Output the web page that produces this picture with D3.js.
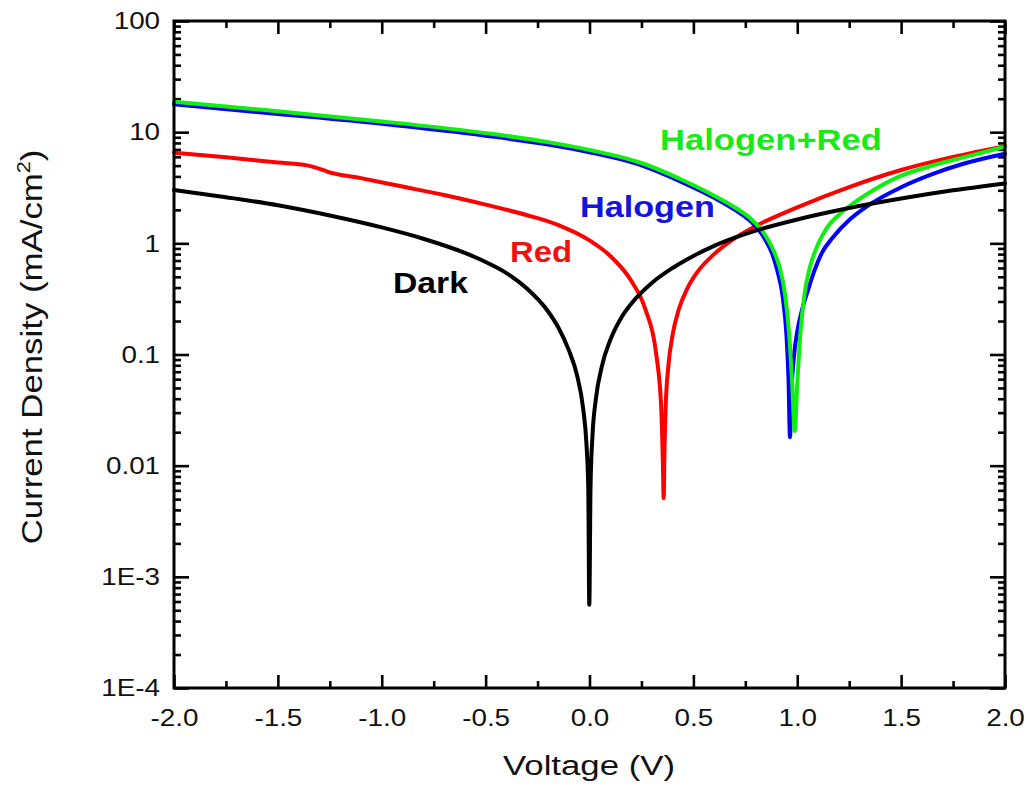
<!DOCTYPE html>
<html>
<head>
<meta charset="utf-8">
<script src="https://cdn.jsdelivr.net/npm/d3@7"></script>
<style>
  body { margin: 0; background: #fff; }
  text { font-family: "Liberation Sans", Arial, Helvetica, sans-serif; }
</style>
</head>
<body>
<svg id="chart" width="1030" height="790"></svg>
<script>
// ---- data ----
const xTickValues = [-2.0, -1.5, -1.0, -0.5, 0.0, 0.5, 1.0, 1.5, 2.0];
const xTickLabels = ["-2.0", "-1.5", "-1.0", "-0.5", "0.0", "0.5", "1.0", "1.5", "2.0"];
const yTickValues = [100, 10, 1, 0.1, 0.01, 1e-3, 1e-4];
const yTickLabels = ["100", "10", "1", "0.1", "0.01", "1E-3", "1E-4"];

// J-V sweeps: voltage (V) and |current density| (mA/cm^2)
const darkV = [-2.0, -1.75, -1.5, -1.25, -1.0, -0.8, -0.6, -0.5, -0.4, -0.3, -0.2, -0.15, -0.1, -0.06, -0.03, -0.015, -0.006, -0.001, 0.005, 0.015, 0.03, 0.06, 0.1, 0.15, 0.2, 0.3, 0.4, 0.5, 0.6, 0.8, 1.0, 1.25, 1.5, 1.75, 2.0];
const darkJ = [3.02, 2.6, 2.2, 1.78, 1.39, 1.1, 0.82, 0.68, 0.54, 0.39, 0.245, 0.175, 0.11, 0.065, 0.032, 0.016, 0.0064, 5.6e-4, 0.0065, 0.0195, 0.039, 0.079, 0.135, 0.21, 0.285, 0.44, 0.6, 0.77, 0.95, 1.3, 1.64, 2.08, 2.53, 3.0, 3.46];

const redV = [-2.0, -1.75, -1.5, -1.36, -1.31, -1.26, -1.1, -0.9, -0.7, -0.5, -0.3, -0.15, 0.0, 0.1, 0.2, 0.27, 0.32, 0.345, 0.353, 0.357, 0.361, 0.367, 0.38, 0.4, 0.43, 0.47, 0.52, 0.6, 0.7, 0.8, 1.0, 1.25, 1.5, 1.75, 2.0];
const redJ = [6.53, 5.94, 5.33, 5.03, 4.75, 4.4, 3.86, 3.24, 2.72, 2.23, 1.79, 1.46, 1.064, 0.77, 0.463, 0.252, 0.104, 0.034, 0.011, 0.0051, 0.014, 0.035, 0.08, 0.15, 0.255, 0.39, 0.554, 0.8, 1.115, 1.43, 2.11, 3.21, 4.57, 5.99, 7.49];

const halogenV = [-2.0, -1.5, -1.0, -0.5, -0.2, 0.0, 0.25, 0.45, 0.6, 0.7, 0.78, 0.84, 0.88, 0.905, 0.93, 0.948, 0.958, 0.965, 0.972, 0.985, 1.0, 1.025, 1.05, 1.08, 1.12, 1.17, 1.25, 1.33, 1.5, 1.65, 1.8, 2.0];
const halogenJ = [17.8, 14.6, 11.9, 9.3, 7.75, 6.6, 5.03, 3.52, 2.57, 2.0, 1.55, 1.13, 0.8, 0.56, 0.33, 0.15, 0.06, 0.018, 0.045, 0.1, 0.16, 0.26, 0.37, 0.55, 0.83, 1.12, 1.62, 2.12, 3.2, 4.2, 5.2, 6.4];

const halogenRedV = [-2.0, -1.5, -1.0, -0.5, -0.2, 0.0, 0.25, 0.45, 0.6, 0.7, 0.78, 0.84, 0.88, 0.916, 0.94, 0.96, 0.975, 0.988, 1.0, 1.016, 1.036, 1.06, 1.1, 1.136, 1.2, 1.25, 1.35, 1.49, 1.65, 1.81, 2.0];
const halogenRedJ = [18.8, 15.4, 12.5, 9.8, 8.14, 6.92, 5.28, 3.69, 2.68, 2.1, 1.64, 1.23, 0.91, 0.6, 0.36, 0.162, 0.058, 0.0205, 0.054, 0.162, 0.36, 0.6, 0.98, 1.32, 1.8, 2.15, 2.88, 3.98, 5.0, 6.0, 7.4];

const seriesNames = ["Dark", "Red", "Halogen", "Halogen+Red"];

// ---- layout & style ----
const M = { left: 174, top: 21, right: 25, bottom: 102 };
const W = 1030 - M.left - M.right;
const H = 790 - M.top - M.bottom;
const colors = { "Dark": "#000000", "Red": "#ff0000", "Halogen": "#0000ff", "Halogen+Red": "#11ee11" };
const labelColors = { "Dark": "#000000", "Red": "#f01010", "Halogen": "#1414dc", "Halogen+Red": "#18ea18" };

const svg = d3.select("#chart");
const g = svg.append("g").attr("transform", `translate(${M.left},${M.top})`);

const x = d3.scaleLinear().domain([-2, 2]).range([0, W]);
const y = d3.scaleLog().domain([1e-4, 100]).range([H, 0]);

const xMinor = d3.range(-1.75, 2, 0.5);
const yMinor = [];
for (let e = -4; e < 2; e++) for (let m = 2; m <= 9; m++) yMinor.push(m * Math.pow(10, e));

const TICK_SX = 1.16;

function styleAxis(sel) {
  sel.select(".domain").remove();
  sel.selectAll(".tick line").attr("stroke", "#000").attr("stroke-width", 2.6);
}

// bottom
g.append("g").attr("transform", `translate(0,${H})`)
  .call(d3.axisBottom(x).tickValues(xMinor).tickSizeInner(-7).tickSizeOuter(0).tickFormat(""))
  .call(styleAxis);
const xAx = g.append("g").attr("transform", `translate(0,${H})`)
  .call(d3.axisBottom(x).tickValues(xTickValues).tickSizeInner(-13).tickSizeOuter(0).tickPadding(21)
    .tickFormat((d, i) => xTickLabels[i]))
  .call(styleAxis);
xAx.selectAll(".tick text").attr("font-size", 24).attr("fill", "#111")
  .attr("font-family", null).attr("transform", `scale(${TICK_SX},1)`);

// top (mirror, no labels)
g.append("g").call(d3.axisTop(x).tickValues(xMinor).tickSizeInner(-7).tickSizeOuter(0).tickFormat("")).call(styleAxis);
g.append("g").call(d3.axisTop(x).tickValues(xTickValues).tickSizeInner(-13).tickSizeOuter(0).tickFormat("")).call(styleAxis);

// left
g.append("g")
  .call(d3.axisLeft(y).tickValues(yMinor).tickSizeInner(-7).tickSizeOuter(0).tickFormat(""))
  .call(styleAxis);
const yAx = g.append("g")
  .call(d3.axisLeft(y).tickValues(yTickValues).tickSizeInner(-15).tickSizeOuter(0).tickPadding(12)
    .tickFormat((d, i) => yTickLabels[i]))
  .call(styleAxis);
yAx.selectAll(".tick text").attr("font-size", 24).attr("fill", "#111")
  .attr("font-family", null).attr("transform", `scale(${TICK_SX},1)`);

// right (mirror, no labels)
g.append("g").attr("transform", `translate(${W},0)`)
  .call(d3.axisRight(y).tickValues(yMinor).tickSizeInner(-7).tickSizeOuter(0).tickFormat("")).call(styleAxis);
g.append("g").attr("transform", `translate(${W},0)`)
  .call(d3.axisRight(y).tickValues(yTickValues).tickSizeInner(-15).tickSizeOuter(0).tickFormat("")).call(styleAxis);

// curves
const line = d3.line().x(d => x(d[0])).y(d => y(d[1])).curve(d3.curveMonotoneX);
const series = {
  "Dark": d3.zip(darkV, darkJ),
  "Red": d3.zip(redV, redJ),
  "Halogen": d3.zip(halogenV, halogenJ),
  "Halogen+Red": d3.zip(halogenRedV, halogenRedJ)
};
["Red", "Halogen", "Halogen+Red", "Dark"].forEach(name => {
  g.append("path").datum(series[name])
    .attr("fill", "none").attr("stroke", colors[name])
    .attr("stroke-width", 4).attr("stroke-linejoin", "round").attr("stroke-linecap", "round")
    .attr("d", line);
});

// frame
g.append("rect").attr("width", W).attr("height", H)
  .attr("fill", "none").attr("stroke", "#000").attr("stroke-width", 3);

// text fitted to a given width by horizontal scaling around its anchor
function fitText(sel, tx, ty, target, extra) {
  const len = sel.node().getComputedTextLength();
  sel.attr("transform", `translate(${tx},${ty})${extra || ""} scale(${target / len},1)`);
}

// series labels
const seriesLabelPos = [
  { name: "Dark", x: 393, y: 292.5, w: 75 },
  { name: "Red", x: 510, y: 261.5, w: 62 },
  { name: "Halogen", x: 580, y: 216.5, w: 135 },
  { name: "Halogen+Red", x: 660, y: 149.5, w: 222 }
];
seriesLabelPos.forEach(p => {
  const t = svg.append("text").attr("font-size", 30).attr("font-weight", "bold")
    .attr("fill", labelColors[p.name]).text(p.name);
  fitText(t, p.x, p.y, p.w);
});

// axis titles
const xt = svg.append("text").attr("font-size", 28).attr("fill", "#111")
  .attr("text-anchor", "middle").text("Voltage (V)");
fitText(xt, 589, 775, 172);

const yt = svg.append("text").attr("font-size", 29).attr("fill", "#111").attr("text-anchor", "middle");
yt.append("tspan").text("Current Density (mA/cm");
yt.append("tspan").attr("font-size", 18).attr("dy", -12).text("2");
yt.append("tspan").attr("dy", 12).text(")");
fitText(yt, 42, 347, 395, " rotate(-90)");
</script>
</body>
</html>
